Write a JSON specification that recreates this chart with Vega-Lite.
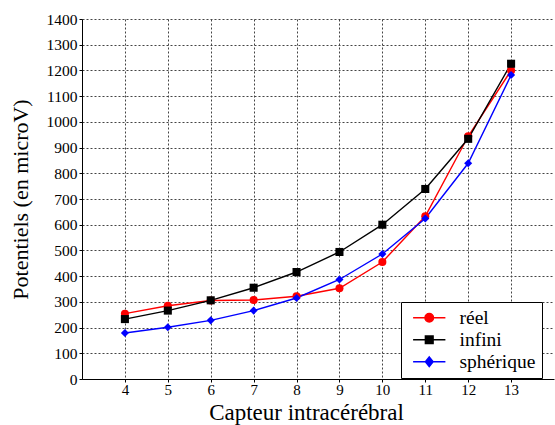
{
  "$schema": "https://vega.github.io/schema/vega-lite/v6.json",
  "width": 472,
  "height": 360,
  "autosize": "none",
  "padding": {"left": 82, "top": 19, "right": 1, "bottom": 46},
  "background": "white",
  "config": {
    "view": {"stroke": null},
    "font": "Liberation Serif"
  },
  "data": {
    "values": [
      {"capteur": 4, "modele": "réel", "v": 254},
      {"capteur": 5, "modele": "réel", "v": 285},
      {"capteur": 6, "modele": "réel", "v": 305},
      {"capteur": 7, "modele": "réel", "v": 307},
      {"capteur": 8, "modele": "réel", "v": 322},
      {"capteur": 9, "modele": "réel", "v": 353},
      {"capteur": 10, "modele": "réel", "v": 455},
      {"capteur": 11, "modele": "réel", "v": 633},
      {"capteur": 12, "modele": "réel", "v": 944},
      {"capteur": 13, "modele": "réel", "v": 1200},
      {"capteur": 4, "modele": "infini", "v": 233},
      {"capteur": 5, "modele": "infini", "v": 266},
      {"capteur": 6, "modele": "infini", "v": 306},
      {"capteur": 7, "modele": "infini", "v": 355},
      {"capteur": 8, "modele": "infini", "v": 416},
      {"capteur": 9, "modele": "infini", "v": 494},
      {"capteur": 10, "modele": "infini", "v": 600},
      {"capteur": 11, "modele": "infini", "v": 739},
      {"capteur": 12, "modele": "infini", "v": 934},
      {"capteur": 13, "modele": "infini", "v": 1226},
      {"capteur": 4, "modele": "sphérique", "v": 179},
      {"capteur": 5, "modele": "sphérique", "v": 201},
      {"capteur": 6, "modele": "sphérique", "v": 228},
      {"capteur": 7, "modele": "sphérique", "v": 266},
      {"capteur": 8, "modele": "sphérique", "v": 315},
      {"capteur": 9, "modele": "sphérique", "v": 387},
      {"capteur": 10, "modele": "sphérique", "v": 486},
      {"capteur": 11, "modele": "sphérique", "v": 624},
      {"capteur": 12, "modele": "sphérique", "v": 839},
      {"capteur": 13, "modele": "sphérique", "v": 1182}
    ]
  },
  "encoding": {
    "x": {
      "field": "capteur", "type": "quantitative",
      "scale": {"domain": [3, 14], "nice": false, "zero": false},
      "axis": {
        "values": [4, 5, 6, 7, 8, 9, 10, 11, 12, 13],
        "format": "d",
        "title": "Capteur intracérébral",
        "titleFont": "Liberation Serif", "titleFontSize": 23, "titleFontWeight": "normal", "titleColor": "black",
        "titleX": 224, "titleY": 33, "titleBaseline": "middle", "titleAlign": "center",
        "labelFont": "Liberation Serif", "labelFontSize": 15, "labelColor": "black", "labelPadding": 0,
        "domainColor": "black", "domainWidth": 1,
        "tickColor": "black", "tickSize": 3,
        "grid": true, "gridColor": "#444", "gridDash": [2, 2], "gridWidth": 1
      }
    },
    "y": {
      "field": "v", "type": "quantitative",
      "scale": {"domain": [0, 1400], "nice": false},
      "axis": {
        "values": [0, 100, 200, 300, 400, 500, 600, 700, 800, 900, 1000, 1100, 1200, 1300, 1400],
        "format": "d",
        "title": "Potentiels (en microV)",
        "titleFont": "Liberation Serif", "titleFontSize": 22, "titleFontWeight": "normal", "titleColor": "black",
        "titleX": -62, "titleBaseline": "middle",
        "labelFont": "Liberation Serif", "labelFontSize": 15.5, "labelColor": "black", "labelPadding": 2,
        "domainColor": "black", "domainWidth": 1,
        "tickColor": "black", "tickSize": 3,
        "grid": true, "gridColor": "#444", "gridDash": [2, 2], "gridWidth": 1
      }
    },
    "color": {
      "field": "modele", "type": "nominal",
      "scale": {"domain": ["réel", "infini", "sphérique"], "range": ["#ff0000", "#000000", "#0000ff"]},
      "legend": {
        "orient": "none", "legendX": 319, "legendY": 283, "title": null,
        "fillColor": "white", "strokeColor": "black", "padding": 6,
        "symbolSize": 289, "symbolOffset": 12.5, "labelOffset": 20.5, "rowPadding": 1,
        "labelFont": "Liberation Serif", "labelFontSize": 19.5, "labelColor": "black",
        "symbolStrokeWidth": 1.5,
        "encoding": {
          "symbols": {
            "update": {
              "shape": {"signal": "datum.value === 'réel' ? 'M-1.9,0H1.9M-0.5,0A0.5,0.5 0 1,0 0.5,0A0.5,0.5 0 1,0 -0.5,0Z' : (datum.value === 'infini' ? 'M-1.9,0H1.9M-0.45,-0.45H0.45V0.45H-0.45Z' : 'M-1.9,0H1.9M0,-0.56L0.45,0L0,0.56L-0.45,0Z')"},
              "fill": {"signal": "scale('color', datum.value)"},
              "stroke": {"signal": "scale('color', datum.value)"},
              "strokeWidth": {"value": 1.5},
              "opacity": {"value": 1},
              "fillOpacity": {"value": 1}
            },
            "shape": {"value": {"expr": "datum.value === 'réel' ? 'M-1.9,0H1.9M-0.5,0A0.5,0.5 0 1,0 0.5,0A0.5,0.5 0 1,0 -0.5,0Z' : (datum.value === 'infini' ? 'M-1.9,0H1.9M-0.45,-0.45H0.45V0.45H-0.45Z' : 'M-1.9,0H1.9M0,-0.56L0.45,0L0,0.56L-0.45,0Z')"}},
            "fill": {"value": {"expr": "scale('color', datum.value)"}},
            "stroke": {"value": {"expr": "scale('color', datum.value)"}},
            "strokeWidth": {"value": 1.5},
            "opacity": {"value": 1},
            "fillOpacity": {"value": 1}
          }
        }
      }
    }
  },
  "layer": [
    {"mark": {"type": "line", "strokeWidth": 1.4}},
    {
      "mark": {"type": "point", "filled": true, "opacity": 1, "size": 65},
      "encoding": {
        "shape": {
          "condition": [
            {"test": "datum.modele === 'réel'", "value": "circle"},
            {"test": "datum.modele === 'infini'", "value": "square"}
          ],
          "value": "diamond"
        }
      }
    }
  ]
}
